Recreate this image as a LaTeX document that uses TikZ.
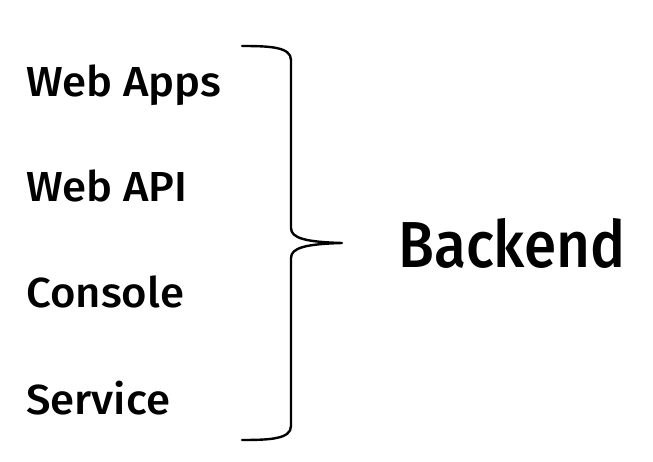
\documentclass[tikz,border=0pt]{standalone}
\usepackage{fontspec}
\setmainfont{Fira Sans}[UprightFont=* Medium,FakeStretch=1.04]
\newfontfamily\bigfont{Fira Sans}[UprightFont=* Medium,FakeStretch=0.9]
\begin{document}
\begin{tikzpicture}[x=1pt,y=-1pt,
  item/.style={anchor=base west,inner sep=0pt,font=\fontsize{42}{42}\selectfont},
  big/.style={anchor=base west,inner sep=0pt,font=\bigfont\fontsize{65}{65}\selectfont},
  brace/.style={line width=2.4pt,line cap=round,line join=round}]
\useasboundingbox[fill=white] (0,0) rectangle (653,462);
\node[item] (apps) at (26,97) {Web Apps};
\node[item] (api) at (26,202) {Web API};
\node[item] (console) at (26,308) {Console};
\node[item] (service) at (26,414) {Service};
\node[big] (backend) at (398,268) {Backend};
\coordinate (bt) at (242,46);
\coordinate (bb) at (242,440);
\coordinate (tip) at (342,243);
\draw[brace] (bt) .. controls (270,46) and (291,47) .. (291,60)
  -- (291,228) .. controls (291,238) and (305,242) .. (tip)
  .. controls (305,244) and (291,248) .. (291,258)
  -- (291,426) .. controls (291,439) and (270,440) .. (bb);
\end{tikzpicture}
\end{document}
